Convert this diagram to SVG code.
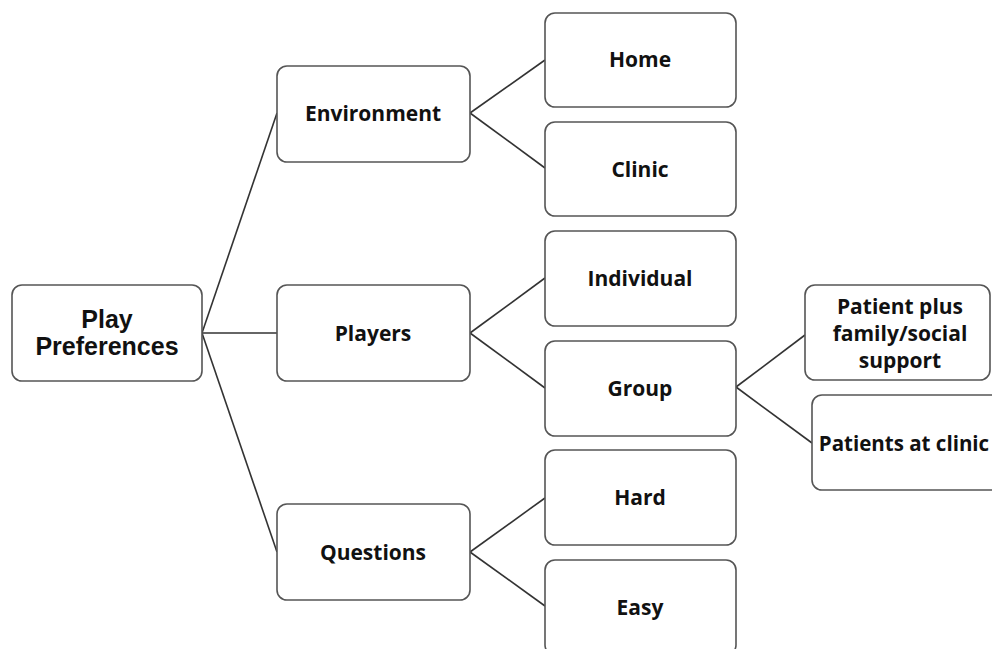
<svg xmlns="http://www.w3.org/2000/svg" width="992" height="649" viewBox="0 0 992 649">
<style>
.box{fill:#fff;stroke:#555;stroke-width:1.6}
.t{font-family:"Open Sans","Liberation Sans",sans-serif;font-weight:bold;font-size:21px;fill:#111;text-anchor:middle;dominant-baseline:central}
.r{font-family:"Liberation Sans",Arial,sans-serif;font-weight:bold;font-size:25px;fill:#111;text-anchor:middle;dominant-baseline:central}
.c{stroke:#333;stroke-width:1.6;fill:none}
</style>
<rect width="992" height="649" fill="#fff"/>
<g id="connectors">
<line class="c" x1="202" y1="333" x2="277" y2="113"/>
<line class="c" x1="202" y1="333" x2="277" y2="333"/>
<line class="c" x1="202" y1="333" x2="277" y2="552"/>
<line class="c" x1="470" y1="113" x2="545" y2="60"/>
<line class="c" x1="470" y1="113" x2="545" y2="168"/>
<line class="c" x1="470" y1="333" x2="545" y2="278"/>
<line class="c" x1="470" y1="333" x2="545" y2="388"/>
<line class="c" x1="470" y1="552" x2="545" y2="498"/>
<line class="c" x1="470" y1="552" x2="545" y2="606"/>
<line class="c" x1="736" y1="387" x2="805" y2="335"/>
<line class="c" x1="736" y1="387" x2="812" y2="443"/>
</g>
<g id="play-preferences"><rect class="box" x="12" y="285" width="190" height="96" rx="10"/><text class="r" x="107" y="319">Play</text><text class="r" x="107" y="346">Preferences</text></g>
<g id="environment"><rect class="box" x="277" y="66" width="193" height="96" rx="10"/><text class="t" x="373" y="113">Environment</text></g>
<g id="players"><rect class="box" x="277" y="285" width="193" height="96" rx="10"/><text class="t" x="373" y="333">Players</text></g>
<g id="questions"><rect class="box" x="277" y="504" width="193" height="96" rx="10"/><text class="t" x="373" y="552">Questions</text></g>
<g id="home"><rect class="box" x="545" y="13" width="191" height="94" rx="10"/><text class="t" x="640" y="59">Home</text></g>
<g id="clinic"><rect class="box" x="545" y="122" width="191" height="94" rx="10"/><text class="t" x="640" y="169">Clinic</text></g>
<g id="individual"><rect class="box" x="545" y="231" width="191" height="95" rx="10"/><text class="t" x="640" y="278">Individual</text></g>
<g id="group"><rect class="box" x="545" y="341" width="191" height="95" rx="10"/><text class="t" x="640" y="388">Group</text></g>
<g id="hard"><rect class="box" x="545" y="450" width="191" height="95" rx="10"/><text class="t" x="640" y="497">Hard</text></g>
<g id="easy"><rect class="box" x="545" y="560" width="191" height="95" rx="10"/><text class="t" x="640" y="607">Easy</text></g>
<g id="patient-plus"><rect class="box" x="805" y="285" width="185" height="95" rx="10"/><text class="t" x="900" y="306">Patient plus</text><text class="t" x="900" y="333">family/social</text><text class="t" x="900" y="360">support</text></g>
<g id="patients-at-clinic"><rect class="box" x="812" y="395" width="190" height="95" rx="10"/><text class="t" x="904" y="443" style="font-size:20.5px">Patients at clinic</text></g>
</svg>
